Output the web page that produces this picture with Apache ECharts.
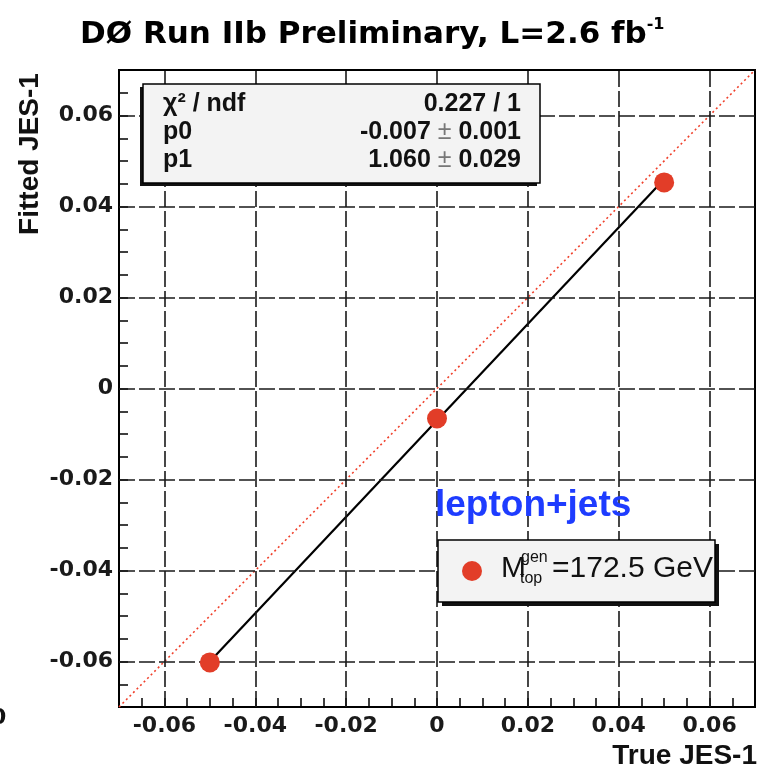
<!DOCTYPE html>
<html><head><meta charset="utf-8">
<script src="https://cdn.jsdelivr.net/npm/echarts@6/dist/echarts.min.js"></script>
<style>html,body{margin:0;padding:0;background:#fff}#c{width:760px;height:771px}</style>
</head><body><div id="c"></div>
<script>
// ---- data ----
const trueJES = [-0.05, 0, 0.05];
const fittedJES = [-0.0602, -0.0066, 0.0453];
const fitX = [-0.05, 0.05];
const fitY = [-0.060, 0.046];
const diagX = [-0.07, 0.07];
const diagY = [-0.07, 0.07];
const xTickLabels = [-0.06, -0.04, -0.02, 0, 0.02, 0.04, 0.06];
const yTickLabels = [-0.06, -0.04, -0.02, 0, 0.02, 0.04, 0.06];
const statNames = ['χ² / ndf', 'p0', 'p1'];
const statValues = ['0.227 / 1', '-0.007 {pm|±} 0.001', '1.060 {pm|±} 0.029'];
const titleText = 'DØ Run IIb Preliminary, L=2.6 fb';
const legendLabel = '=172.5 GeV';

const zip = (a, b) => a.map((v, i) => [v, b[i]]);
const fmt = labels => v => {
  const m = labels.find(l => Math.abs(l - v) < 1e-9);
  return m === undefined ? '' : (m === 0 ? '0' : String(m));
};
const tickFont = { fontFamily: 'DejaVu Sans', fontWeight: 'bold', fontSize: 22, color: '#1a1a1a' };

const chart = echarts.init(document.getElementById('c'), null, { renderer: 'canvas' });

const statTexts = [];
statNames.forEach((n, i) => {
  statTexts.push({ type: 'text', x: 163, y: 104 + i * 28, style: { text: n, fontFamily: 'Liberation Sans', fontWeight: 'bold', fontSize: 25, fill: '#111', verticalAlign: 'middle', align: 'left' } });
  statTexts.push({ type: 'text', x: 521, y: 104 + i * 28, style: { text: statValues[i], fontFamily: 'Liberation Sans', fontWeight: 'bold', fontSize: 25, fill: '#111', verticalAlign: 'middle', align: 'right',
    rich: { pm: { fontFamily: 'Liberation Sans', fontSize: 25, fill: '#777', fontWeight: 'normal' } } } });
});

chart.setOption({
  animation: false,
  backgroundColor: '#fff',
  grid: { left: 119, right: 5, top: 70, bottom: 64, show: true, borderColor: '#000', borderWidth: 2, backgroundColor: 'transparent' },
  xAxis: {
    type: 'value', min: -0.07, max: 0.07, interval: 0.005, position: 'bottom',
    axisLine: { show: false, onZero: false }, splitLine: { show: false },
    axisTick: { inside: true, length: 9, lineStyle: { color: '#000', width: 1.5 } },
    axisLabel: Object.assign({ formatter: fmt(xTickLabels), margin: 8, showMinLabel: true, showMaxLabel: true }, tickFont)
  },
  yAxis: {
    type: 'value', min: -0.07, max: 0.07, interval: 0.005, position: 'left',
    axisLine: { show: false, onZero: false }, splitLine: { show: false },
    axisTick: { inside: true, length: 9, lineStyle: { color: '#000', width: 1.5 } },
    axisLabel: Object.assign({ formatter: fmt(yTickLabels), margin: 6, showMinLabel: true, showMaxLabel: true }, tickFont)
  },
  series: [
    {
      type: 'line', data: zip(diagX, diagY), symbol: 'none', z: 3, silent: true,
      lineStyle: { color: '#f0412c', width: 1.6, type: [2, 3] },
      markLine: {
        silent: true, symbol: ['none', 'none'], label: { show: false }, animation: false,
        lineStyle: { color: '#1a1a1a', width: 1.6, type: [16, 4] },
        emphasis: { disabled: true },
        data: [...xTickLabels.map(v => ({ xAxis: v })), ...yTickLabels.map(v => ({ yAxis: v }))]
      }
    },
    {
      type: 'line', data: zip(fitX, fitY), symbol: 'none', z: 4, silent: true,
      lineStyle: { color: '#000', width: 2.2 }
    },
    {
      type: 'scatter', data: zip(trueJES, fittedJES), symbolSize: 20, z: 5, silent: true,
      itemStyle: { color: '#e23d28', opacity: 1 }
    }
  ],
  graphic: [
    { type: 'text', x: 80, y: 35, style: { text: '{m|' + titleText + '}{s|-1}', verticalAlign: 'middle', align: 'left',
      rich: { m: { fontFamily: 'DejaVu Sans', fontWeight: 'bold', fontSize: 31, fill: '#000', lineHeight: 36 },
              s: { fontFamily: 'DejaVu Sans', fontWeight: 'bold', fontSize: 16, fill: '#000', verticalAlign: 'top', lineHeight: 18 } } } },
    { type: 'text', x: 30, y: 154, rotation: Math.PI / 2, style: { text: 'Fitted JES-1', fontFamily: 'Liberation Sans', fontWeight: 'bold', fontSize: 28, fill: '#111', align: 'center', verticalAlign: 'middle' } },
    { type: 'text', x: 757, y: 756, style: { text: 'True JES-1', fontFamily: 'Liberation Sans', fontWeight: 'bold', fontSize: 28, fill: '#111', align: 'right', verticalAlign: 'middle' } },
    { type: 'text', x: -9, y: 718, style: { text: '0', fontFamily: 'DejaVu Sans', fontWeight: 'bold', fontSize: 22, fill: '#111', align: 'left', verticalAlign: 'middle' } },
    // stats box
    { type: 'rect', shape: { x: 140, y: 87, width: 397, height: 99 }, style: { fill: '#111' }, z: 10 },
    { type: 'rect', shape: { x: 143, y: 84, width: 397, height: 99 }, style: { fill: '#f3f3f3', stroke: '#000', lineWidth: 1.5 }, z: 11 },
    ...statTexts.map(t => Object.assign(t, { z: 12 })),
    // lepton+jets
    { type: 'text', x: 435, y: 506, z: 12, style: { text: 'lepton+jets', fontFamily: 'Liberation Sans', fontWeight: 'bold', fontSize: 37, fill: '#1e3cff', align: 'left', verticalAlign: 'middle' } },
    // legend box
    { type: 'rect', shape: { x: 442, y: 544, width: 277, height: 62 }, style: { fill: '#111' }, z: 10 },
    { type: 'rect', shape: { x: 438, y: 540, width: 277, height: 62 }, style: { fill: '#f3f3f3', stroke: '#000', lineWidth: 1.5 }, z: 11 },
    { type: 'circle', shape: { cx: 472, cy: 571, r: 10 }, style: { fill: '#e23d28' }, z: 12 },
    { type: 'text', x: 501, y: 569, z: 12, style: { text: 'M', fontFamily: 'Liberation Sans', fontSize: 30, fill: '#111', align: 'left', verticalAlign: 'middle' } },
    { type: 'text', x: 521, y: 558, z: 13, style: { text: 'gen', fontFamily: 'Liberation Sans', fontSize: 16, fill: '#111', align: 'left', verticalAlign: 'middle' } },
    { type: 'text', x: 520, y: 579, z: 13, style: { text: 'top', fontFamily: 'Liberation Sans', fontSize: 16, fill: '#111', align: 'left', verticalAlign: 'middle' } },
    { type: 'text', x: 552, y: 569, z: 12, style: { text: legendLabel, fontFamily: 'Liberation Sans', fontSize: 30, fill: '#111', align: 'left', verticalAlign: 'middle' } }
  ]
});
</script>
</body></html>
